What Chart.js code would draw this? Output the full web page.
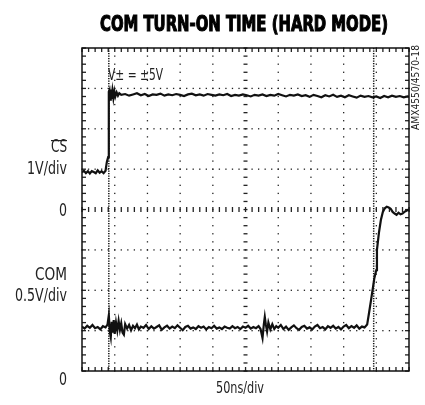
<!DOCTYPE html>
<html>
<head>
<meta charset="utf-8">
<script src="https://cdn.jsdelivr.net/npm/chart.js@4"></script>
<style>
  html, body { margin: 0; padding: 0; background: #fff; }
  #wrap { width: 425px; height: 405px; position: relative; }
</style>
</head>
<body>
<div id="wrap"><canvas id="scope"></canvas></div>
<script>
// time in ns (50ns/div), level in screen divisions (0 = centre line)
var csTime = [0, 3, 6, 9, 12, 15, 18, 21, 24, 27, 30, 33, 36, 38, 40, 41, 42, 43, 44, 45, 46.5, 48, 49.5, 51, 53, 55, 57, 60,
  66, 72, 78, 84, 90, 96, 102, 108, 114, 120, 126, 132, 138, 144, 150, 156, 162, 168, 174, 180, 186, 192, 198,
  204, 210, 216, 222, 228, 234, 240, 246, 252, 258, 264, 270, 276, 282, 288, 294, 300, 306, 312, 318, 324, 330,
  336, 342, 348, 354, 360, 366, 372, 378, 384, 390, 396, 402, 408, 414, 420, 426, 432, 438, 444, 450, 456, 462,
  468, 474, 480, 486, 492, 498, 500];
var csLevel = [0.92, 0.96, 0.90, 0.95, 0.89, 0.95, 0.93, 0.90, 0.97, 0.91, 0.95, 0.90, 0.96, 1.18, 1.30, 2.92, 2.96, 2.72, 2.97, 2.74, 2.95, 2.76, 2.93, 2.80, 2.90, 2.82, 2.88, 2.84,
  2.86, 2.82, 2.85, 2.88, 2.83, 2.86, 2.81, 2.85, 2.84, 2.87, 2.82, 2.85, 2.83, 2.86, 2.84, 2.81, 2.85, 2.87, 2.83, 2.85, 2.82, 2.86, 2.84,
  2.82, 2.85, 2.83, 2.86, 2.81, 2.84, 2.82, 2.85, 2.83, 2.80, 2.84, 2.82, 2.85, 2.81, 2.84, 2.82, 2.86, 2.83, 2.80, 2.84, 2.82, 2.85,
  2.81, 2.83, 2.79, 2.84, 2.81, 2.78, 2.83, 2.80, 2.84, 2.79, 2.82, 2.78, 2.83, 2.80, 2.77, 2.82, 2.79, 2.81, 2.78, 2.80, 2.76, 2.81,
  2.78, 2.82, 2.79, 2.81, 2.78, 2.80, 2.79];

var comTime = [0, 4, 8, 12, 16, 20, 24, 28, 32, 36, 39, 41, 42.5, 44, 45.5, 47, 48.5, 50, 52, 54, 56, 58, 60, 62, 64, 66, 69, 72, 75, 78,
  81, 84, 87, 90, 94, 98, 102, 106, 110, 114, 118, 122, 126, 130, 134, 138, 142, 146, 150, 154, 158, 162, 166, 170,
  174, 178, 182, 186, 190, 194, 198, 202, 206, 210, 214, 218, 222, 226, 230, 234, 238, 242, 246, 250, 254, 258,
  262, 266, 270, 273, 276, 278, 279.5, 281, 283, 285, 288, 291, 294, 297, 300, 304, 308, 312, 316, 320, 324, 328,
  332, 336, 340, 344, 348, 352, 356, 360, 364, 368, 372, 376, 380, 384, 388, 392, 396, 400, 404, 408, 412, 416,
  420, 424, 428, 432, 436, 439, 442, 445, 447, 450, 451, 454, 457, 460, 463, 466, 469, 472, 475, 478, 481, 484,
  487, 490, 493, 496, 500];
var comLevel = [-2.90, -2.95, -2.88, -2.93, -2.86, -2.94, -2.91, -2.97, -2.89, -2.92, -2.85, -2.62, -3.02, -3.16, -2.78, -3.05, -2.74, -3.08, -2.80, -3.00, -2.76, -2.98, -2.82, -3.05, -3.10, -2.84, -2.95, -2.86, -2.99, -2.88,
  -2.94, -2.85, -2.97, -2.90, -2.93, -2.86, -2.96, -2.89, -2.95, -2.91, -2.87, -2.98, -2.92, -2.88, -2.95, -2.90, -2.94, -2.87, -2.93, -2.99, -2.91, -2.88, -2.95, -2.92,
  -2.96, -2.89, -2.93, -2.90, -2.97, -2.91, -2.94, -2.88, -2.95, -2.92, -2.96, -2.90, -2.93, -2.95, -2.89, -2.94, -2.91, -2.96, -2.90, -2.93, -2.88, -2.95,
  -2.91, -2.94, -2.89, -2.96, -3.18, -2.85, -2.66, -2.84, -3.02, -2.80, -2.97, -2.84, -2.96, -2.89, -2.93, -2.86, -2.96, -2.90, -2.98, -2.92, -2.87, -2.94,
  -2.98, -2.91, -2.88, -2.95, -2.92, -2.97, -2.90, -2.86, -2.94, -2.91, -2.97, -2.89, -2.93, -2.88, -2.95, -2.91, -2.97, -2.90, -2.86, -2.94, -2.89, -2.93,
  -2.87, -2.95, -2.90, -2.92, -2.85, -2.55, -2.24, -1.92, -1.70, -1.50, -1.00, -0.58, -0.26, -0.06, 0.03, 0.07, 0.05, 0.02, -0.06, -0.10, -0.13, -0.08,
  -0.12, -0.10, -0.06, -0.03, 0.00];

var cursorTime = [41, 446];

var titleText = 'COM TURN-ON TIME (HARD MODE)';
var sideLabels = ['CS', '1V/div', '0', 'COM', '0.5V/div', '0'];
var sideLabelY = [148, 170, 212, 276, 297, 381];
var sideLabelW = [16, 40, 8, 32, 52, 8];

var narrow = '"Liberation Sans Narrow", "DejaVu Sans Condensed", "Roboto Condensed", sans-serif';

function points(t, v) {
  var out = [];
  for (var i = 0; i < t.length; i++) out.push({x: t[i], y: v[i]});
  return out;
}

// draw text squeezed/stretched to a given width
function fitText(ctx, txt, x, y, w, align, stroke) {
  var m = ctx.measureText(txt).width;
  var s = w / m;
  ctx.save();
  ctx.translate(x, y);
  ctx.scale(s, 1);
  ctx.textAlign = align;
  ctx.fillText(txt, 0, 0);
  if (stroke) {
    ctx.lineWidth = stroke;
    ctx.strokeStyle = ctx.fillStyle;
    ctx.strokeText(txt, 0, 0);
  }
  ctx.restore();
}

var scopeGrid = {
  id: 'scopeGrid',
  beforeDatasetsDraw: function(chart) {
    var ctx = chart.ctx, a = chart.chartArea;
    var xs = chart.scales.x, ys = chart.scales.y;
    var i, k, px, py;
    ctx.save();
    ctx.fillStyle = '#222';
    // dotted grid
    for (i = 1; i < 10; i++) {
      if (i == 5) continue;
      px = xs.getPixelForValue(i * 50);
      for (k = 0; k <= 40; k++) {
        py = ys.getPixelForValue(-4 + k * 0.2);
        ctx.fillRect(px - 0.6, py - 0.6, 1.3, 1.3);
      }
    }
    for (i = -3; i <= 3; i++) {
      if (i == 0) continue;
      py = ys.getPixelForValue(i);
      for (k = 0; k <= 50; k++) {
        px = xs.getPixelForValue(k * 10);
        ctx.fillRect(px - 0.6, py - 0.6, 1.3, 1.3);
      }
    }
    // centre lines with minor ticks
    px = xs.getPixelForValue(250);
    for (k = 0; k <= 40; k++) {
      py = ys.getPixelForValue(-4 + k * 0.2);
      ctx.fillRect(px - 2, py - 0.6, 4, 1.3);
    }
    py = ys.getPixelForValue(0);
    for (k = 0; k <= 50; k++) {
      px = xs.getPixelForValue(k * 10);
      ctx.fillRect(px - 0.6, py - 2.5, 1.3, 5);
    }
    // border ticks
    for (k = 0; k <= 50; k++) {
      px = xs.getPixelForValue(k * 10);
      ctx.fillRect(px - 0.6, a.top, 1.3, 4);
      ctx.fillRect(px - 0.6, a.bottom - 4, 1.3, 4);
    }
    for (k = 0; k <= 40; k++) {
      py = ys.getPixelForValue(-4 + k * 0.2);
      ctx.fillRect(a.left, py - 0.6, 4, 1.3);
      ctx.fillRect(a.right - 4, py - 0.6, 4, 1.3);
    }
    // frame
    ctx.strokeStyle = '#111';
    ctx.lineWidth = 1.5;
    ctx.strokeRect(a.left, a.top, a.right - a.left, a.bottom - a.top);
    // cursors
    ctx.setLineDash([1.2, 1.3]);
    ctx.lineWidth = 1.5;
    for (i = 0; i < cursorTime.length; i++) {
      px = xs.getPixelForValue(cursorTime[i]);
      ctx.beginPath();
      ctx.moveTo(px, a.top);
      ctx.lineTo(px, a.bottom);
      ctx.stroke();
    }
    ctx.restore();
  },
  afterDraw: function(chart) {
    var ctx = chart.ctx;
    ctx.save();
    ctx.fillStyle = '#000';
    ctx.textBaseline = 'alphabetic';
    ctx.font = 'bold 21px ' + narrow;
    fitText(ctx, titleText, 244, 30.5, 288, 'center', 1.1);

    ctx.fillStyle = '#222';
    ctx.font = '17px ' + narrow;
    ctx.textBaseline = 'middle';
    for (var i = 0; i < sideLabels.length; i++) {
      fitText(ctx, sideLabels[i], 67, sideLabelY[i], sideLabelW[i], 'right');
    }
    // overline on CS
    ctx.fillRect(51, 140, 16, 1.2);

    ctx.font = '16px ' + narrow;
    fitText(ctx, 'V\u00b1 = \u00b15V', 108, 76, 55, 'left');
    fitText(ctx, '50ns/div', 240, 388.5, 48, 'center');

    ctx.font = '11px ' + narrow;
    ctx.translate(416, 87.5);
    ctx.rotate(-Math.PI / 2);
    fitText(ctx, 'AMX4550/4570-18', 0, 0, 85, 'center');
    ctx.restore();
  }
};

var chart = new Chart(document.getElementById('scope').getContext('2d'), {
  type: 'line',
  data: {
    datasets: [
      {label: 'CS', data: points(csTime, csLevel), borderColor: '#111', borderWidth: 2.2, pointRadius: 0, tension: 0},
      {label: 'COM', data: points(comTime, comLevel), borderColor: '#111', borderWidth: 2.2, pointRadius: 0, tension: 0}
    ]
  },
  options: {
    responsive: true,
    maintainAspectRatio: false,
    animation: false,
    layout: {padding: {left: 82, top: 48, right: 16, bottom: 34}},
    plugins: {legend: {display: false}, tooltip: {enabled: false}},
    scales: {
      x: {type: 'linear', min: 0, max: 500, display: false},
      y: {type: 'linear', min: -4, max: 4, display: false}
    }
  },
  plugins: [scopeGrid]
});
</script>
</body>
</html>
